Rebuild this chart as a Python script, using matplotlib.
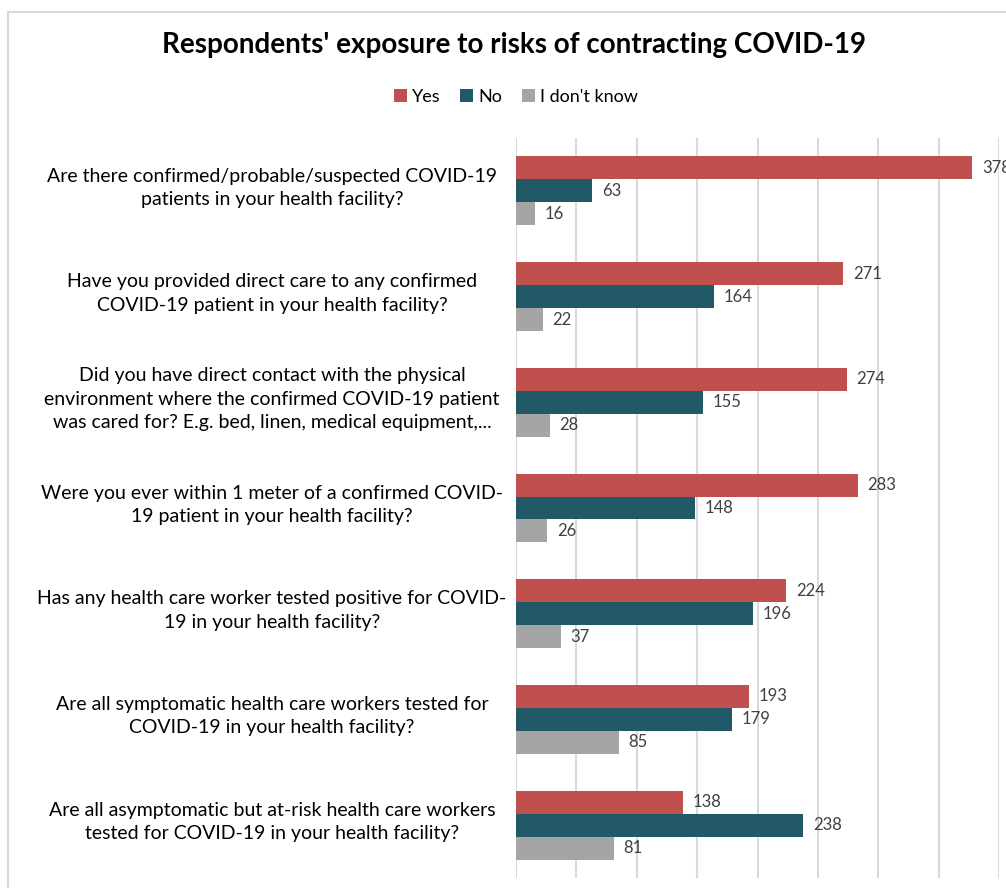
import matplotlib
matplotlib.use("Agg")
import matplotlib.pyplot as plt
import matplotlib.transforms as mtransforms
from matplotlib.patches import Rectangle
import numpy as np

plt.rcParams['font.family'] = ['Lato', 'DejaVu Sans']

questions = [
    "Are there confirmed/probable/suspected COVID-19\npatients in your health facility?",
    "Have you provided direct care to any confirmed\nCOVID-19 patient in your health facility?",
    "Did you have direct contact with the physical\nenvironment where the confirmed COVID-19 patient\nwas cared for? E.g. bed, linen, medical equipment,...",
    "Were you ever within 1 meter of a confirmed COVID-\n19 patient in your health facility?",
    "Has any health care worker tested positive for COVID-\n19 in your health facility?",
    "Are all symptomatic health care workers tested for\nCOVID-19 in your health facility?",
    "Are all asymptomatic but at-risk health care workers\ntested for COVID-19 in your health facility?",
]
yes_counts = [378, 271, 274, 283, 224, 193, 138]
no_counts = [63, 164, 155, 148, 196, 179, 238]
dont_know_counts = [16, 22, 28, 26, 37, 85, 81]
series_names = ["Yes", "No", "I don't know"]
series_colors = ["#C0504D", "#215967", "#A5A5A5"]

W, H = 1006, 888
fig = plt.figure(figsize=(W / 100, H / 100), dpi=100)

# outer chart frame (runs off the right and bottom edges)
fig.patches.append(Rectangle((8 / W, -0.05), 1.2, 1 - 12 / H + 0.05,
                             transform=fig.transFigure, fill=False,
                             edgecolor="#D9D9D9", linewidth=1.5, zorder=0))

ax = fig.add_axes([516 / W, 1 - 878 / H, (999 - 516) / W, (878 - 138) / H])
n = len(questions)
y = np.arange(n)
bar_h = 0.217
series = [yes_counts, no_counts, dont_know_counts]
for i, (vals, name, col) in enumerate(zip(series, series_names, series_colors)):
    pos = y + (i - 1) * bar_h
    ax.barh(pos, vals, height=bar_h, color=col, label=name, zorder=2)
    for p, v in zip(pos, vals):
        ax.text(v + 8, p, str(v), va="center", ha="left", fontsize=12,
                color="#404040", clip_on=False)

ax.set_xlim(0, 400)
ax.set_ylim(n - 0.5, -0.5)
ax.set_xticks(np.arange(0, 401, 50))
ax.grid(axis="x", color="#D9D9D9", linewidth=1.5, zorder=0)
ax.tick_params(left=False, bottom=False, labelbottom=False, labelleft=False)
for s in ax.spines.values():
    s.set_visible(False)

trans = mtransforms.blended_transform_factory(fig.transFigure, ax.transData)
for yi, q in zip(y, questions):
    ax.text(272 / W, yi - 0.03, q, transform=trans, ha="center", va="center",
            multialignment="center", fontsize=14, color="#000000",
            linespacing=1.45)

fig.text(514 / W, 1 - 45 / H, "Respondents' exposure to risks of contracting COVID-19",
         ha="center", va="center", fontsize=20, fontweight="bold", color="#000000")

handles, labels = ax.get_legend_handles_labels()
fig.legend(handles, labels, loc="center", bbox_to_anchor=(516 / W, 1 - 97 / H),
           ncol=3, frameon=False, fontsize=13, handlelength=0.7, handleheight=0.7,
           handletextpad=0.3, columnspacing=1.1, labelcolor="#000000")

fig.savefig("out.png", dpi=100, facecolor="white")
